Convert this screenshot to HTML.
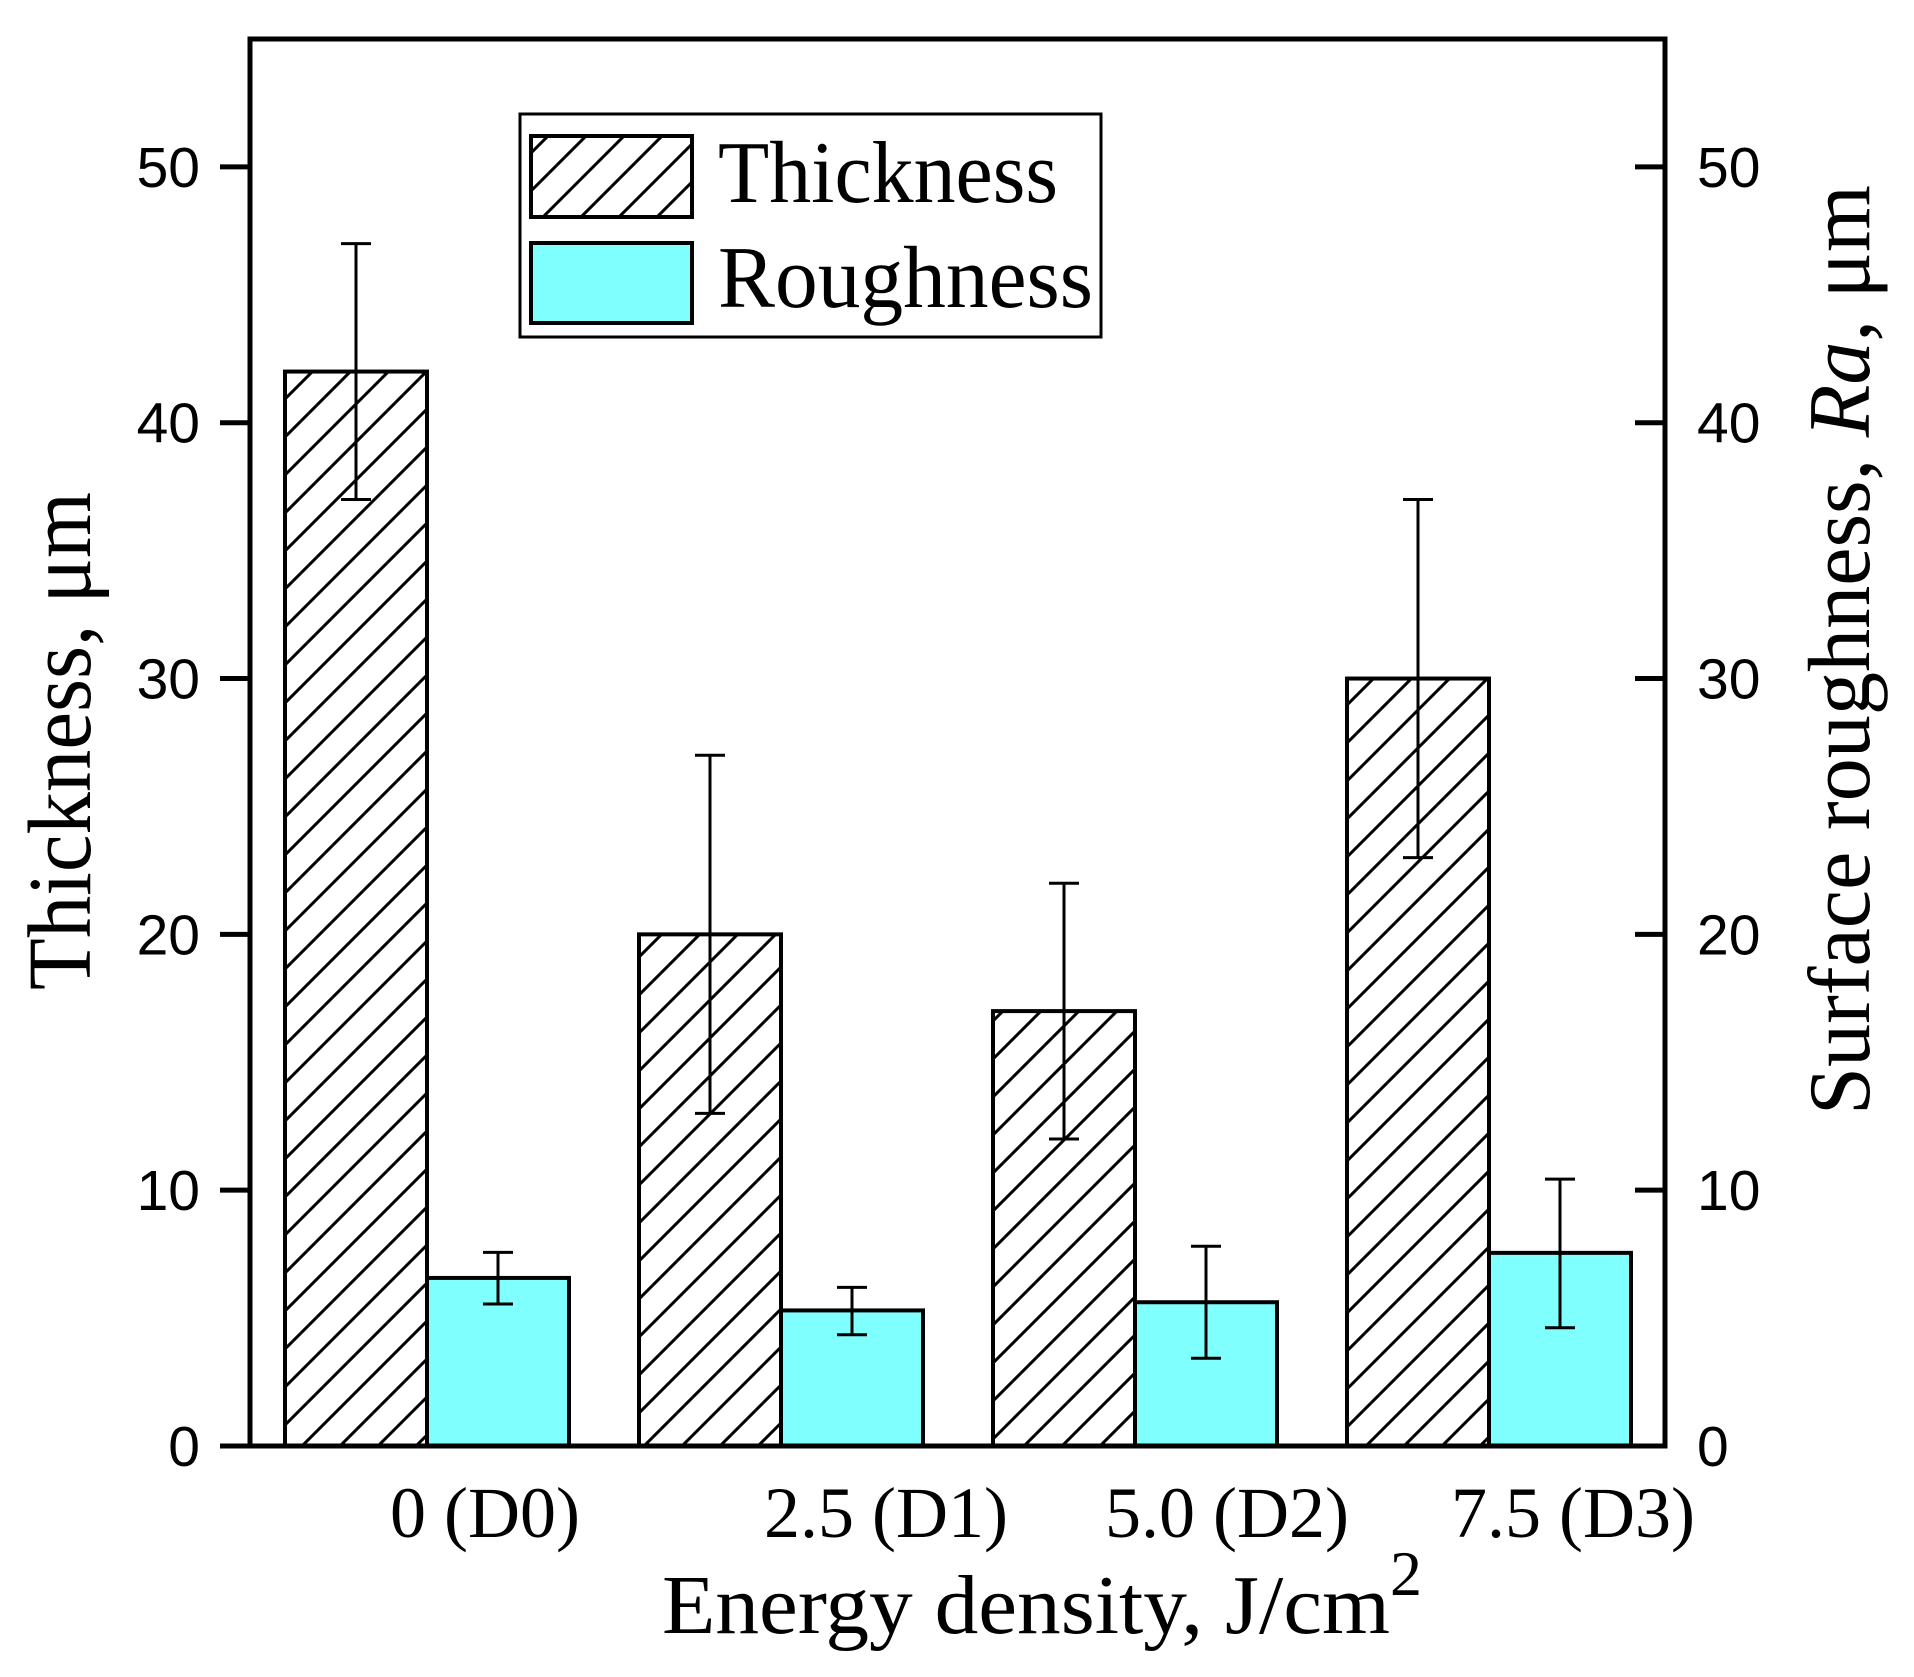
<!DOCTYPE html>
<html><head><meta charset="utf-8"><style>
html,body{margin:0;padding:0;background:#fff;}
svg{display:block;}
</style></head><body>
<svg id="chart" width="1914" height="1677" viewBox="0 0 1914 1677" xmlns="http://www.w3.org/2000/svg">
<defs>
<pattern id="hatch" patternUnits="userSpaceOnUse" width="38" height="38">
<line x1="-10" y1="48" x2="48" y2="-10" stroke="#000" stroke-width="3"/>
<line x1="-48" y1="48" x2="10" y2="-10" stroke="#000" stroke-width="3"/>
<line x1="28" y1="48" x2="86" y2="-10" stroke="#000" stroke-width="3"/>
</pattern>
</defs>
<g id="bars"></g>
<g id="errs"></g>
<g id="axes"></g>
<g id="legend">
<rect x="520" y="114" width="581" height="223" fill="#fff" stroke="#000" stroke-width="3"/>
<rect x="531" y="136" width="161" height="81" fill="url(#hatch)" stroke="#000" stroke-width="4"/>
<rect x="531" y="243" width="161" height="80" fill="#80ffff" stroke="#000" stroke-width="4"/>
<text x="718" y="202" font-family="Liberation Serif, serif" font-size="88" textLength="340" lengthAdjust="spacingAndGlyphs">Thickness</text>
<text x="718" y="307" font-family="Liberation Serif, serif" font-size="88" textLength="375" lengthAdjust="spacingAndGlyphs">Roughness</text>
</g>
<text transform="translate(90,741) rotate(-90)" text-anchor="middle" font-family="Liberation Serif, serif" font-size="90" textLength="498" lengthAdjust="spacingAndGlyphs">Thickness, μm</text>
<text transform="translate(1869,650) rotate(-90)" text-anchor="middle" font-family="Liberation Serif, serif" font-size="88" textLength="930" lengthAdjust="spacingAndGlyphs">Surface roughness, <tspan font-style="italic">Ra</tspan>, μm</text>
<text x="662" y="1633" font-family="Liberation Serif, serif" font-size="84"><tspan textLength="728" lengthAdjust="spacingAndGlyphs">Energy density, J/cm</tspan><tspan dy="-38" font-size="64">2</tspan></text>
</svg>
<script>
const categories = ["0 (D0)", "2.5 (D1)", "5.0 (D2)", "7.5 (D3)"];
const thickness = [42, 20, 17, 30];
const thicknessErr = [5, 7, 5, 7];
const roughness = [6.57, 5.3, 5.62, 7.55];
const roughLow = [5.55, 4.35, 3.43, 4.62];
const roughHigh = [7.57, 6.2, 7.81, 10.43];
const yTicks = [0, 10, 20, 30, 40, 50];
const labelX = [485, 886, 1227, 1573];

const NS = "http://www.w3.org/2000/svg";
const X0 = 250, X1 = 1665, Y0 = 1446, YTOP = 39, YMAX = 55;
const y = v => Y0 - v / YMAX * (Y0 - YTOP);
const groupStart = i => 285 + i * 354;
const BW = 142;
function mk(tag, attrs, parent) {
  const e = document.createElementNS(NS, tag);
  for (const k in attrs) e.setAttribute(k, attrs[k]);
  parent.appendChild(e);
  return e;
}
const bars = document.getElementById('bars');
const errs = document.getElementById('errs');
const axes = document.getElementById('axes');
categories.forEach((c, i) => {
  const xs = groupStart(i);
  const b1 = mk('rect', {x: xs, y: y(thickness[i]), width: BW, height: Y0 - y(thickness[i]), fill: 'url(#hatch)', stroke: '#000', 'stroke-width': 4}, bars);
  
  
  const b2 = mk('rect', {x: xs + BW, y: y(roughness[i]), width: BW, height: Y0 - y(roughness[i]), fill: '#80ffff', stroke: '#000', 'stroke-width': 4}, bars);
  
  
  const errsets = [[xs + BW / 2, thickness[i] - thicknessErr[i], thickness[i] + thicknessErr[i], 'thickness'], [xs + BW * 1.5, roughLow[i], roughHigh[i], 'roughness']];
  errsets.forEach(([cx, lo, hi, nm]) => {
    const g = mk('g', {stroke: '#000', 'stroke-width': 3}, errs);
    
    
    mk('line', {x1: cx, x2: cx, y1: y(lo), y2: y(hi)}, g);
    mk('line', {x1: cx - 15, x2: cx + 15, y1: y(lo), y2: y(lo)}, g);
    mk('line', {x1: cx - 15, x2: cx + 15, y1: y(hi), y2: y(hi)}, g);
  });
  const t = mk('text', {x: labelX[i], y: 1537, 'text-anchor': 'middle', 'font-family': 'Liberation Serif, serif', 'font-size': 72}, axes);
  t.textContent = c;
  
  
});
const frame = mk('rect', {x: X0, y: YTOP, width: X1 - X0, height: Y0 - YTOP, fill: 'none', stroke: '#000', 'stroke-width': 5}, axes);


yTicks.forEach(v => {
  mk('line', {x1: X0 - 30, x2: X0, y1: y(v), y2: y(v), stroke: '#000', 'stroke-width': 5}, axes);
  mk('line', {x1: X1 - 30, x2: X1, y1: y(v), y2: y(v), stroke: '#000', 'stroke-width': 5}, axes);
  const l = mk('text', {x: 200, y: y(v) + 20, 'text-anchor': 'end', 'font-family': 'Liberation Sans, sans-serif', 'font-size': 57}, axes);
  l.textContent = v;
  
  
  const r = mk('text', {x: 1697, y: y(v) + 20, 'text-anchor': 'start', 'font-family': 'Liberation Sans, sans-serif', 'font-size': 57}, axes);
  r.textContent = v;
  
  
});
</script>
</body></html>
